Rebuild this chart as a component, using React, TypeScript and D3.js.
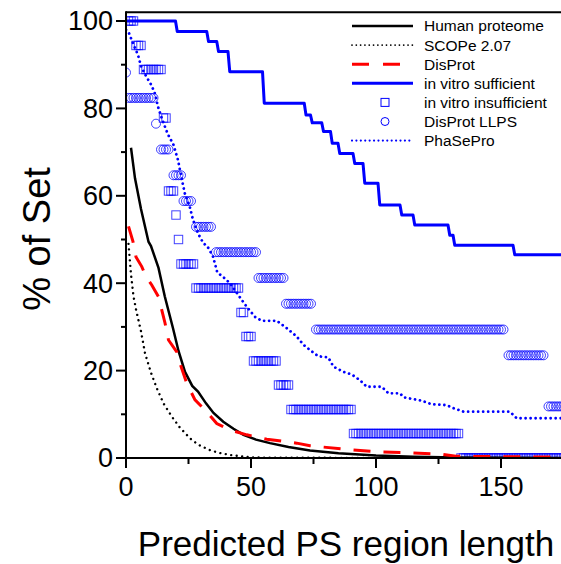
import React from "react";
import * as d3 from "d3";

// cumulative curves: [length, % of set]
const humanProteome = [
  [2, 71], [3.6, 64], [6, 57], [9, 49.5], [10, 48.5], [13, 43.5], [15.5, 37],
  [18.8, 29.7], [21, 24.5], [23.6, 19.7], [26.5, 16.5], [28.8, 15.2], [32, 12.5],
  [35, 10.3], [38.9, 8.3], [43, 6.7], [47, 5.3], [52, 4.2], [57.6, 3.4], [65, 2.5],
  [73.6, 1.7], [85, 1.1], [100, 0.6], [115, 0.3], [132, 0.1], [175, 0],
];
const scope207 = [
  [1, 49], [2, 42], [3, 37], [4, 34], [5, 31.5], [6, 29], [7.6, 24], [10, 19.5],
  [12.3, 16], [15, 12.5], [18.3, 9.5], [21.5, 7], [25.6, 4.5], [29, 3], [33.6, 1.8],
  [37, 1.2], [41.6, 0.7], [49.6, 0.15], [60, 0.05], [175, 0],
];
const disprot = [
  [1, 53], [2.8, 49.5], [4, 46], [6.3, 43.8], [8, 41.5], [10.3, 39.6], [13, 36.9],
  [15.6, 30.9], [17, 27], [20.3, 24.3], [22, 21], [24.3, 17.1], [27.6, 13.3],
  [31.6, 11], [36.3, 7.9], [41.6, 6.4], [48.3, 5.3], [56.3, 4.3], [68.3, 3.4],
  [73.6, 2.8], [87.6, 2], [100, 1.45], [113.6, 1.2], [125.6, 0.9], [132, 0.4],
  [150, 0.3], [175, 0.2],
];
const inVitroSufficient = [
  [0, 100], [20.5, 97.6], [33, 95.3], [37, 93], [41.5, 88.4], [55.3, 81.2],
  [72, 78.5], [74.5, 76.7], [79, 74.7], [82.5, 72], [85.5, 69.7], [91.5, 67.4],
  [95.5, 62.9], [101.5, 57.9], [110.3, 55.6], [115.5, 53.3], [129.5, 51],
  [131.5, 48.7], [155.5, 46.5], [175, 46.5],
];
const phasePro = [
  [0, 98], [1, 97.5], [2.8, 94.9], [4.8, 92.2], [6.1, 89.5], [8.1, 87.3], [10.1, 85.4],
  [11.5, 83.5], [12.8, 80.4], [14.1, 78.1], [16.1, 75], [17.5, 73.2], [18.8, 72],
  [20.8, 68.2], [22.1, 64.4], [23.5, 60.6], [25.5, 57.5], [26.8, 54.5], [28.8, 51.4],
  [31, 49.1], [32.5, 48.5], [34.8, 46.1], [36.5, 42.5], [39.5, 41.1], [41.6, 40],
  [44.9, 37.3], [48.3, 34.6], [51.6, 32.3], [54.3, 31.4], [60.3, 31.4], [64.3, 29.7],
  [68.3, 27.8], [71, 25.9], [73.6, 24.7], [76.9, 23.3], [80.9, 23], [83, 20.9],
  [87, 19.7], [90.3, 19.1], [93.6, 17.8], [96.3, 16.3], [102.3, 16.3], [105, 14.8],
  [109.6, 14.8], [111, 13.9], [118.3, 13.1], [122.3, 12.3], [128.3, 12.1], [131, 11.4],
  [135, 10.6], [153.6, 10.6], [156.3, 9.1], [175, 9.1],
];

// marker runs: [first length, last length, % of set], one marker per length
const inVitroInsufficient = [
  [1, 3, 100], [4, 6, 94.4], [7, 14, 88.9], [15, 16, 77.8], [17, 19, 61.1],
  [20, 20, 55.6], [21, 21, 50], [22, 27, 44.4], [28, 45, 38.9], [46, 47, 33.3],
  [48, 50, 27.8], [51, 60, 22.2], [61, 65, 16.7], [66, 90, 11.1], [91, 133, 5.6],
  [134, 175, 0],
];
const disprotLLPS = [
  [0, 0, 88.2], [1, 11, 82.4], [12, 12, 76.5], [14, 17, 70.6], [19, 22, 64.7],
  [23, 26, 58.8], [28, 34, 52.9], [36, 52, 47.1], [53, 63, 41.2], [64, 74, 35.3],
  [76, 151, 29.4], [153, 167, 23.5], [169, 175, 11.8],
];

const yTicks = [0, 20, 40, 60, 80, 100];
const yMinor = [10, 30, 50, 70, 90];
const xTicks = [0, 50, 100, 150];
const xMinor = [25, 75, 125];

const legendNames = [
  "Human proteome", "SCOPe 2.07", "DisProt", "in vitro sufficient",
  "in vitro insufficient", "DisProt LLPS", "PhaSePro",
];

const BLUE = "#0000ff";
const FONT = "'Liberation Sans', Arial, Helvetica, sans-serif";

const expand = (runs) =>
  runs.flatMap(([a, b, v]) => d3.range(a, b + 1).map((x) => [x, v]));

// step line with the small slant the plotting program leaves on each drop
const slanted = (pts, slant) =>
  pts.flatMap((p, i) => (i === 0 ? [p] : [[p[0] - slant, pts[i - 1][1]], p]));

export default function App() {
  const W = 561, H = 564;
  const x = d3.scaleLinear().domain([0, 175]).range([126, 563.5]);
  const y = d3.scaleLinear().domain([0, 100]).range([458, 21]);
  const top = y(102);

  const line = d3.line().x((d) => x(d[0])).y((d) => y(d[1]));

  const squares = expand(inVitroInsufficient);
  const circles = expand(disprotLLPS);

  const legX0 = 352, legX1 = 413, legText = 424;
  const legY = (i) => 26 + i * 19.1;

  return (
    <svg width={W} height={H} style={{ position: "absolute", left: 0, top: 0, background: "#fff" }}
      fontFamily={FONT}>
      <defs>
        <clipPath id="plot">
          <rect x={x(0)} y={top} width={W - x(0)} height={y(0) - top} />
        </clipPath>
      </defs>

      <g clipPath="url(#plot)">
        {squares.map((d, i) => (
          <rect key={"s" + i} x={x(d[0]) - 4.2} y={y(d[1]) - 4.2} width={8.4} height={8.4}
            fill="none" stroke={BLUE} strokeWidth={1} strokeOpacity={0.75} />
        ))}
        {circles.map((d, i) => (
          <circle key={"c" + i} cx={x(d[0])} cy={y(d[1])} r={4.5}
            fill="none" stroke={BLUE} strokeWidth={1} strokeOpacity={0.75} />
        ))}
        <path d={line(slanted(inVitroSufficient, 0.7))} fill="none" stroke={BLUE} strokeWidth={3}
          strokeLinejoin="round" />
        <path d={line(phasePro)} fill="none" stroke={BLUE} strokeWidth={2.8}
          strokeDasharray="0.01 5" strokeLinecap="round" />
        <path d={line(humanProteome)} fill="none" stroke="#000" strokeWidth={2.5} />
        <path d={line(scope207)} fill="none" stroke="#000" strokeWidth={2.4}
          strokeDasharray="0.01 5.5" strokeLinecap="round" />
        <path d={line(disprot)} fill="none" stroke="#ff0000" strokeWidth={3}
          strokeDasharray="17 13" />
      </g>

      {/* frame */}
      <line x1={x(0)} x2={W} y1={top} y2={top} stroke="#000" strokeWidth={2} />
      <line x1={x(0)} x2={x(0)} y1={top - 1} y2={y(0) + 1} stroke="#000" strokeWidth={2} />
      <line x1={x(0) - 1} x2={W} y1={y(0)} y2={y(0)} stroke="#000" strokeWidth={2} />

      {yTicks.map((t) => (
        <g key={"yt" + t}>
          <line x1={x(0) - 10} x2={x(0)} y1={y(t)} y2={y(t)} stroke="#000" strokeWidth={2} />
          <text x={113} y={y(t)} dy="0.35em" textAnchor="end" fontSize={27}>{t}</text>
        </g>
      ))}
      {yMinor.map((t) => (
        <line key={"ym" + t} x1={x(0) - 5} x2={x(0)} y1={y(t)} y2={y(t)} stroke="#000" strokeWidth={2} />
      ))}
      {xTicks.map((t) => (
        <g key={"xt" + t}>
          <line x1={x(t)} x2={x(t)} y1={y(0)} y2={y(0) + 10} stroke="#000" strokeWidth={2} />
          <text x={x(t)} y={496} textAnchor="middle" fontSize={27}>{t}</text>
        </g>
      ))}
      {xMinor.map((t) => (
        <line key={"xm" + t} x1={x(t)} x2={x(t)} y1={y(0)} y2={y(0) + 6} stroke="#000" strokeWidth={2} />
      ))}

      <text x={346} y={556} textAnchor="middle" fontSize={35}>Predicted PS region length</text>
      <text transform="translate(50,239) rotate(-90)" textAnchor="middle" fontSize={38}>% of Set</text>

      {/* legend */}
      <g>
        <line x1={legX0} x2={legX1} y1={legY(0)} y2={legY(0)} stroke="#000" strokeWidth={2.5} />
        <line x1={legX0} x2={legX1} y1={legY(1)} y2={legY(1)} stroke="#000" strokeWidth={1.8}
          strokeDasharray="0.01 4.3" strokeLinecap="round" />
        <line x1={legX0} x2={legX1} y1={legY(2)} y2={legY(2)} stroke="#ff0000" strokeWidth={3}
          strokeDasharray="17 14" />
        <line x1={legX0} x2={legX1} y1={legY(3)} y2={legY(3)} stroke={BLUE} strokeWidth={3} />
        <rect x={385 - 4} y={legY(4) - 4} width={8} height={8} fill="none" stroke={BLUE} strokeWidth={1} />
        <circle cx={385} cy={legY(5)} r={4} fill="none" stroke={BLUE} strokeWidth={1} />
        <line x1={legX0} x2={legX1} y1={legY(6)} y2={legY(6)} stroke={BLUE} strokeWidth={2.2}
          strokeDasharray="0.01 4.4" strokeLinecap="round" />
        {legendNames.map((n, i) => (
          <text key={n} x={legText} y={legY(i)} dy="0.35em" fontSize={15.5}>{n}</text>
        ))}
      </g>
    </svg>
  );
}
